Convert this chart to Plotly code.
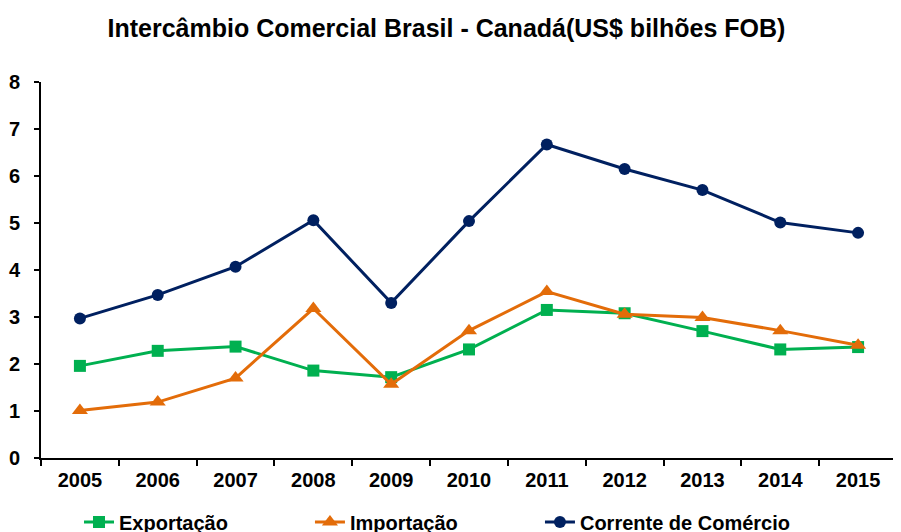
import plotly.graph_objects as go

anos = ["2005", "2006", "2007", "2008", "2009", "2010", "2011", "2012", "2013", "2014", "2015"]
exportacao = [1.96, 2.28, 2.37, 1.86, 1.72, 2.31, 3.15, 3.08, 2.70, 2.31, 2.36]
importacao = [1.01, 1.19, 1.70, 3.18, 1.57, 2.71, 3.54, 3.06, 2.99, 2.71, 2.40]
corrente = [2.97, 3.47, 4.07, 5.06, 3.30, 5.04, 6.67, 6.15, 5.70, 5.01, 4.79]
y_ticks = [0, 1, 2, 3, 4, 5, 6, 7, 8]

fig = go.Figure()
fig.add_trace(go.Scatter(x=anos, y=exportacao, name="<b>Exportação</b>", mode="lines+markers",
                         line=dict(color="#00B050", width=3), legend="legend",
                         marker=dict(symbol="square", size=12, color="#00B050")))
fig.add_trace(go.Scatter(x=anos, y=importacao, name="<b>Importação</b>", mode="lines+markers",
                         line=dict(color="#E36C09", width=3), legend="legend2",
                         marker=dict(symbol="triangle-up", size=14, color="#E36C09")))
fig.add_trace(go.Scatter(x=anos, y=corrente, name="<b>Corrente de Comércio</b>", mode="lines+markers",
                         line=dict(color="#002060", width=3), legend="legend3",
                         marker=dict(symbol="circle", size=12, color="#002060")))

leg_font = dict(family="Liberation Sans, Arial", size=20, color="black")
leg_common = dict(orientation="h", xanchor="left", y=-0.170, yanchor="middle",
                  font=leg_font, itemwidth=30, bgcolor="rgba(0,0,0,0)")

fig.update_layout(
    width=893, height=524,
    margin=dict(l=33, r=4, t=74, b=74, autoexpand=False),
    paper_bgcolor="white", plot_bgcolor="white",
    title=dict(text="<b>Intercâmbio Comercial Brasil - Canadá(US$ bilhões FOB)</b>",
               x=0.491, xanchor="center", y=0.9618, yanchor="middle",
               font=dict(family="Liberation Sans, Arial", size=25, color="black")),
    font=dict(family="Liberation Sans, Arial", color="black"),
    showlegend=True,
    legend=dict(x=0.0444, **leg_common),
    legend2=dict(x=0.3142, **leg_common),
    legend3=dict(x=0.5829, **leg_common),
)
fig.update_xaxes(type="category", range=[-0.5, 10.5], showline=True, linecolor="black", linewidth=2,
                 ticks="outside", tickson="boundaries", ticklen=6, tickwidth=1.5, tickcolor="black",
                 showgrid=False, zeroline=False, automargin=False, ticklabelstandoff=3,
                 tickfont=dict(size=20, color="black", weight="bold"))
fig.update_yaxes(range=[0, 8], tickvals=y_ticks, showline=True, linecolor="black", linewidth=2,
                 ticks="outside", ticklen=5, tickwidth=1.5, tickcolor="black",
                 showgrid=False, zeroline=False, automargin=False, ticklabelstandoff=10,
                 tickfont=dict(size=20, color="black", weight="bold"))

fig.write_html("out.html")
